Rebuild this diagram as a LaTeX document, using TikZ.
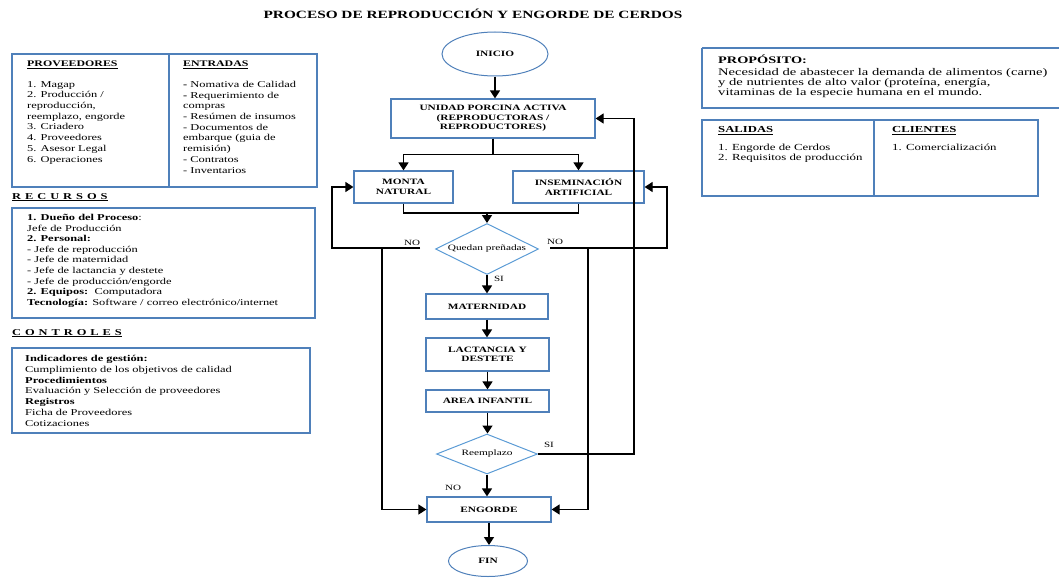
\documentclass[tikz,border=0pt]{standalone}
\usepackage{fontspec}
\setmainfont{Liberation Serif}[FakeStretch=1.38]
\newfontfamily\purposefont{Liberation Serif}[FakeStretch=1.43]
\usetikzlibrary{shapes.geometric,arrows.meta}

\definecolor{boxblue}{HTML}{4F80BA}
\definecolor{diablue}{HTML}{5B9BD5}

\begin{document}
\begin{tikzpicture}[x=1pt,y=-1pt,
  every node/.style={inner sep=0pt},
  txt/.style={font=\fontsize{9}{10.7}\selectfont, align=left, anchor=north west},
  head/.style={font=\fontsize{8.6}{10}\selectfont\bfseries, anchor=north west},
  spaced/.style={font=\fontsize{9}{10}\selectfont\bfseries\addfontfeature{LetterSpace=44}, anchor=north west},
  panel/.style={draw=boxblue, line width=1.1pt},
  flowbox/.style={draw=boxblue, line width=1.2pt, rectangle, align=center,
    font=\fontsize{8.2}{9.5}\selectfont\bfseries},
  terminal/.style={draw=boxblue, line width=1pt, ellipse,
    font=\fontsize{8.2}{9.5}\selectfont\bfseries},
  decision/.style={draw=diablue, line width=1pt, diamond, aspect=2,
    font=\fontsize{8.2}{9}\selectfont},
  tip/.style={-{Triangle[length=8pt,width=10pt]}},
  flow/.style={line width=1.5pt, tip},
  link/.style={line width=1.2pt},
  lab/.style={font=\fontsize{8}{9}\selectfont}
]
\useasboundingbox (0,0) rectangle (1059,578);

% title
\node[font=\fontsize{11.1}{12}\selectfont\bfseries] (title) at (473,14)
  {PROCESO DE REPRODUCCIÓN Y ENGORDE DE CERDOS};

% suppliers / inputs panel
\draw[panel] (12,54) rectangle (317,187);
\draw[panel] (169,54) -- (169,187);
\node[head] (provh) at (27,61) {\underline{PROVEEDORES}};
\node[txt] (provl) at (27,81) {1. Magap\\2. Producción /\\reproducción,\\reemplazo, engorde\\3. Criadero\\4. Proveedores\\5. Asesor Legal\\6. Operaciones};
\node[head] (entrh) at (183,61) {\underline{ENTRADAS}};
\node[txt] (entrl) at (183,81) {\textbf{-} Nomativa de Calidad\\\textbf{-} Requerimiento de\\compras\\- Resúmen de insumos\\- Documentos de\\embarque (guia de\\remisión)\\- Contratos\\- Inventarios};

% resources
\node[spaced] (rech) at (12,193) {\underline{RECURSOS}};
\draw[panel] (12,208) rectangle (315,318);
\node[txt, font=\fontsize{9}{10.6}\selectfont] (recl) at (27,214)
  {\textbf{1. Dueño del Proceso}:\\Jefe de Producción\\\textbf{2. Personal:}\\- Jefe de reproducción\\- Jefe de maternidad\\- Jefe de lactancia y destete\\- Jefe de producción/engorde\\\textbf{2. Equipos:}\ \ Computadora\\\textbf{Tecnología:} Software / correo electrónico/internet};

% controls
\node[spaced] (conh) at (12,329) {\underline{CONTROLES}};
\draw[panel] (12,348) rectangle (310,433);
\node[txt, font=\fontsize{9}{10.8}\selectfont] (conl) at (25,355)
  {\textbf{Indicadores de gestión:}\\Cumplimiento de los objetivos de calidad\\\textbf{Procedimientos}\\Evaluación y Selección de proveedores\\\textbf{Registros}\\Ficha de Proveedores\\Cotizaciones};

% purpose
\draw[panel] (702,48) -- (1070,48) (702,48) -- (702,108) -- (1070,108);
\node[head, font=\purposefont\fontsize{10}{10}\selectfont\bfseries] (proph) at (718,55) {PROPÓSITO:};
\node[txt, font=\purposefont\fontsize{10.2}{10}\selectfont] (propl) at (718,68)
  {Necesidad de abastecer la demanda de alimentos (carne)\\y de nutrientes de alto valor (proteína, energía,\\vitaminas de la especie humana en el mundo.};

% outputs / customers panel
\draw[panel] (702,120) rectangle (1038,196);
\draw[panel] (874,120) -- (874,196);
\node[head, font=\fontsize{9.2}{10}\selectfont\bfseries] (salh) at (718,126) {\underline{SALIDAS}};
\node[txt, font=\fontsize{9.3}{10}\selectfont] (sall) at (718,144) {1. Engorde de Cerdos\\2. Requisitos de producción};
\node[head, font=\fontsize{9.2}{10}\selectfont\bfseries] (clih) at (892,126) {\underline{CLIENTES}};
\node[txt, font=\fontsize{9.3}{10}\selectfont] (clil) at (892,144) {1. Comercialización};

% flowchart nodes
\node[terminal, minimum width=106, minimum height=44] (inicio) at (495,54) {INICIO};
\node[flowbox, minimum width=204, minimum height=39] (unidad) at (493,118.5)
  {UNIDAD PORCINA ACTIVA\\(REPRODUCTORAS /\\REPRODUCTORES)};
\node[flowbox, minimum width=99, minimum height=32] (monta) at (403.5,187) {MONTA\\NATURAL};
\node[flowbox, minimum width=131, minimum height=32] (insem) at (578.5,187) {INSEMINACIÓN\\ARTIFICIAL};
\node[decision, minimum width=103, minimum height=51] (quedan) at (487,249) {Quedan preñadas};
\node[flowbox, minimum width=122, minimum height=25] (mater) at (487,306.5) {MATERNIDAD};
\node[flowbox, minimum width=123, minimum height=33] (lact) at (487.5,354.5) {LACTANCIA Y\\DESTETE};
\node[flowbox, minimum width=123, minimum height=22] (area) at (487.5,401) {AREA INFANTIL};
\node[decision, minimum width=101, minimum height=40] (reemp) at (487,454) {Reemplazo};
\node[flowbox, minimum width=124, minimum height=25] (engorde) at (489,509.5) {ENGORDE};
\node[terminal, minimum width=79, minimum height=31] (fin) at (488,561) {FIN};

% main flow
\draw[flow] (inicio.south) -- (inicio.south |- unidad.north);
\draw[flow] (unidad.south) -- ++(0,16) -| (monta.north);
\draw[flow] (unidad.south) -- ++(0,16) -| (insem.north);
\coordinate (merge) at (487,213);
\draw[line width=1.5pt] (monta.south) |- (merge) -| (insem.south);
\draw[flow] (merge) -- (quedan.north);
\draw[flow] (quedan.south) -- (mater.north);
\draw[flow] (mater.south) -- (mater.south |- lact.north);
\draw[flow] (lact.south) -- (lact.south |- area.north);
\draw[flow] (area.south) -- (area.south |- reemp.north);
\draw[flow] (reemp.south) -- (reemp.south |- engorde.north);
\draw[flow] (engorde.south) -- (engorde.south |- fin.north);

% "not pregnant" returns and bypasses
\coordinate (noL) at (420,248);
\coordinate (noLd) at (382,248);
\coordinate (noR) at (550,248);
\coordinate (noRd) at (588,248);
\draw[link, tip] (noL) -- ++(-88,0) |- (monta.west);
\draw[link, tip] (noLd) |- (engorde.west);
\draw[link, tip] (noR) -- ++(117,0) |- (insem.east);
\draw[link, tip] (noRd) |- (engorde.east);

% replacement loop
\draw[link, tip] (reemp.east) -- ++(96,0) |- (unidad.east);

% branch labels
\node[lab] (lno1) at (412,243) {NO};
\node[lab] (lno2) at (555,242) {NO};
\node[lab] (lsi1) at (499,279) {SI};
\node[lab] (lsi2) at (549,445) {SI};
\node[lab] (lno3) at (453,488) {NO};
\end{tikzpicture}
\end{document}
